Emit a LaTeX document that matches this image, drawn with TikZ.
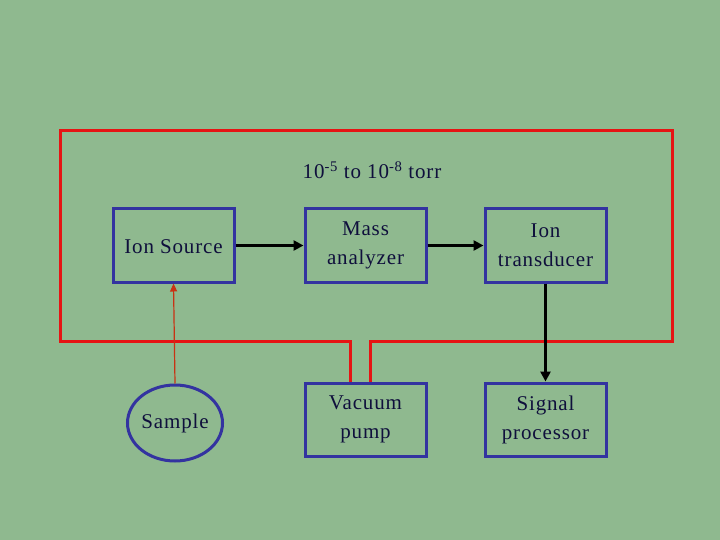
\documentclass[tikz,border=0pt]{standalone}
\usepackage{fontspec}
\setmainfont{Liberation Serif}[LetterSpace=4]
\usetikzlibrary{arrows.meta,shapes.geometric}
\definecolor{bg}{RGB}{143,185,143}
\definecolor{bx}{RGB}{51,51,160}
\definecolor{rd}{RGB}{230,20,20}
\definecolor{tx}{RGB}{15,15,60}
\begin{document}
\begin{tikzpicture}[x=1pt,y=-1pt,
  box/.style={draw=bx,line width=3pt,minimum width=121pt,minimum height=73pt,align=center,font=\fontsize{21}{29}\selectfont,text=tx,inner sep=0pt},
  arr/.style={line width=2.5pt,-{Triangle[length=10pt,width=10pt]}}]
\fill[bg] (0,0) rectangle (720,540);
\useasboundingbox (0,0) rectangle (720,540);
\draw[rd,line width=3pt] (350,383) -- (350,341) -- (60,341) -- (60,131) -- (672,131) -- (672,341) -- (370,341) -- (370,383);
\node[font=\fontsize{21}{24}\selectfont,text=tx] (p) at (372,170) {10\textsuperscript{-5} to 10\textsuperscript{-8} torr};
\node[box] (is) at (173.5,245.5) {};
\node[font=\fontsize{21}{24}\selectfont,text=tx] (isl) at (173.5,247) {Ion Source};
\node[box] (ma) at (365.5,245.5) {Mass\\analyzer};
\node[box] (it) at (545.5,245.5) {Ion\\transducer};
\node[box] (vp) at (365.5,419.5) {Vacuum\\pump};
\node[box] (sp) at (545.5,419.5) {Signal\\processor};
\node[draw=bx,line width=3pt,ellipse,minimum width=80pt,minimum height=76pt,inner sep=0pt,font=\fontsize{21}{24}\selectfont,text=tx] (sa) at (175,423) {Sample};
\draw[arr] (is.east) -- (ma.west);
\draw[arr] (ma.east) -- (it.west);
\draw[arr] (it.south) -- (sp.north);
\draw[line width=1.2pt,color={rgb,255:red,200;green,50;blue,20},-{Triangle[length=8pt,width=7pt]}] (sa.north) -- (is.south);
\end{tikzpicture}
\end{document}
